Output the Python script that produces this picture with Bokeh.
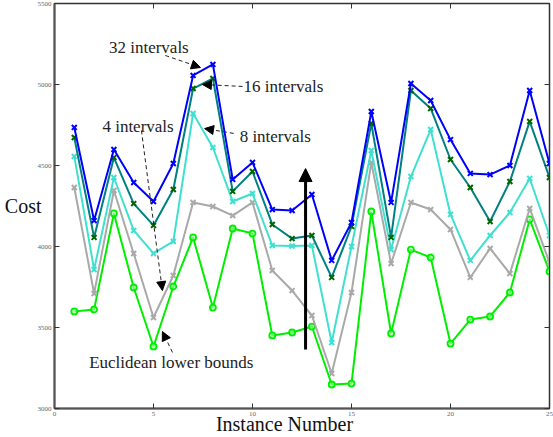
from bokeh.plotting import figure
from bokeh.models import (ColumnDataSource, FixedTicker, LinearAxis, Label, Arrow,
                          NormalHead, Range1d)
from bokeh.embed import file_html
from bokeh.resources import INLINE

instances = list(range(1, 26))
iv32 = [4735, 4160, 4599, 4395, 4278, 4512, 5056, 5124, 4414, 4519, 4228, 4222, 4321,
        3914, 4148, 4833, 4272, 5006, 4901, 4660, 4451, 4444, 4500, 4963, 4512]
iv16 = [4673, 4056, 4549, 4265, 4130, 4352, 4975, 5037, 4340, 4463, 4136, 4049, 4068,
        3809, 4124, 4759, 4056, 4963, 4852, 4537, 4364, 4154, 4401, 4772, 4426]
iv8 = [4556, 3858, 4426, 4099, 3957, 4031, 4821, 4611, 4278, 4327, 4006, 4003, 4006,
       3407, 4000, 4593, 3981, 4432, 4722, 4198, 3914, 4068, 4210, 4420, 4068]
iv4 = [4364, 3710, 4346, 3957, 3562, 3821, 4272, 4247, 4191, 4272, 3852, 3728, 3574,
       3216, 3716, 4519, 3895, 4272, 4228, 4105, 3809, 3988, 3833, 4235, 3901]
lower = [3599, 3611, 4204, 3747, 3383, 3753, 4056, 3623, 4111, 4080, 3451, 3469, 3506,
         3148, 3154, 4216, 3463, 3981, 3932, 3401, 3549, 3568, 3716, 4167, 3846]

x_ticks = [0, 5, 10, 15, 20, 25]
y_ticks = [3000, 3500, 4000, 4500, 5000, 5500]

SERIF = "Liberation Serif"

p = figure(width=553, height=437, output_backend="svg", toolbar_location=None,
           x_range=Range1d(0, 25), y_range=Range1d(3000, 5500),
           min_border_left=54, min_border_right=4, min_border_top=3, min_border_bottom=29,
           x_axis_location=None, y_axis_location=None)
p.grid.visible = False
p.outline_line_color = "#333333"
p.outline_line_width = 1.5
p.background_fill_color = "white"
p.border_fill_color = "white"

def style_axis(ax, ticks, show_labels):
    ax.ticker = FixedTicker(ticks=ticks)
    ax.minor_tick_line_color = None
    ax.major_tick_in = 5
    ax.major_tick_out = 0
    ax.major_tick_line_color = "#333333"
    ax.major_tick_line_width = 1
    ax.axis_line_color = "#555555"
    ax.axis_line_width = 2
    ax.major_label_text_font = SERIF
    ax.major_label_text_color = "#666666"
    ax.major_label_standoff = 3
    ax.major_label_text_font_size = "7px"
    if not show_labels:
        ax.major_label_overrides = {t: "" for t in ticks}
        ax.major_label_standoff = 0
        ax.axis_line_color = "#333333"
        ax.axis_line_width = 1

bottom = LinearAxis(); style_axis(bottom, x_ticks, True)
left = LinearAxis(); style_axis(left, y_ticks, True)
top = LinearAxis(); style_axis(top, x_ticks, False)
right = LinearAxis(); style_axis(right, y_ticks, False)

bottom.axis_label = "Instance Number" + "\u00a0" * 7
bottom.axis_label_text_font = SERIF
bottom.axis_label_text_font_style = "normal"
bottom.axis_label_text_font_size = "20px"
bottom.axis_label_text_color = "#111111"
bottom.axis_label_standoff = -6

left.axis_label = "Cost"
left.axis_label_orientation = "horizontal"
left.axis_label_text_font = SERIF
left.axis_label_text_font_style = "normal"
left.axis_label_text_font_size = "20px"
left.axis_label_text_color = "#111111"
left.axis_label_standoff = -7

p.add_layout(bottom, "below")
p.add_layout(left, "left")
p.add_layout(top, "above")
p.add_layout(right, "right")

src = ColumnDataSource(dict(x=instances, iv32=iv32, iv16=iv16, iv8=iv8, iv4=iv4, lower=lower))

# lower bounds
p.line("x", "lower", source=src, line_color="#00ee00", line_width=2)
p.scatter("x", "lower", source=src, marker="circle", size=6, line_color="#00ee00",
          line_width=1.8, fill_color="#aaffaa", fill_alpha=0.6)
# 4 intervals
p.line("x", "iv4", source=src, line_color="#a9a9a9", line_width=2)
p.scatter("x", "iv4", source=src, marker="x", size=7, line_color="#a9a9a9", line_width=2)
# 8 intervals
p.line("x", "iv8", source=src, line_color="#40e0d0", line_width=2)
p.scatter("x", "iv8", source=src, marker="x", size=7, line_color="#40e0d0", line_width=2)
# 16 intervals
p.line("x", "iv16", source=src, line_color="#008080", line_width=2)
p.scatter("x", "iv16", source=src, marker="x", size=7, line_color="#006400", line_width=2)
# 32 intervals
p.line("x", "iv32", source=src, line_color="#0000ff", line_width=2)
p.scatter("x", "iv32", source=src, marker="x", size=7, line_color="#0000ff", line_width=2)

# annotation texts: (text, x, y)
labels = [("32 intervals", 2.75, 5228), ("16 intervals", 9.55, 4988),
          ("8 intervals", 9.35, 4679), ("4 intervals", 2.42, 4741),
          ("Euclidean lower bounds", 1.75, 3284)]
for t, lx, ly in labels:
    p.add_layout(Label(x=lx, y=ly, text=t, text_font=SERIF, text_font_size="17px",
                       text_baseline="middle", text_align="left", text_color="#222222"))

# annotation arrows: (x_start, y_start, x_end, y_end)
arrows = [(5.6, 5179, 7.37, 5105), (9.5, 4988, 7.47, 5000), (9.05, 4698, 7.58, 4728),
          (4.39, 4716, 5.45, 3728), (5.96, 3346, 5.45, 3475)]
for xs, ys, xe, ye in arrows:
    p.add_layout(Arrow(x_start=xs, y_start=ys, x_end=xe, y_end=ye, line_dash="4 3",
                       line_width=1, line_color="#222222",
                       end=NormalHead(size=9, fill_color="black", line_color="black")))

# solid vertical arrow
p.add_layout(Arrow(x_start=12.68, y_start=3364, x_end=12.68, y_end=4481, line_width=3,
                   line_color="black",
                   end=NormalHead(size=13, fill_color="black", line_color="black")))

open("out.html", "w").write(file_html(p, INLINE))
